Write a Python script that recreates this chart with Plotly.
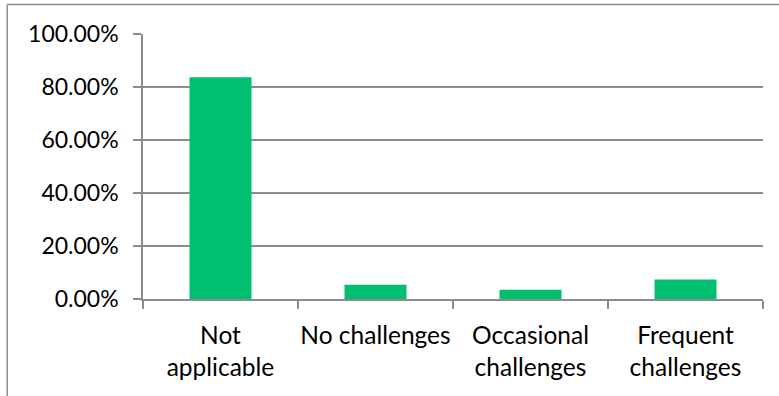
import plotly.graph_objects as go

# Response categories and their shares
categories = ["Not<br>applicable", "No challenges", "Occasional<br>challenges", "Frequent<br>challenges"]
shares = [0.837, 0.054, 0.035, 0.074]

# Value axis ticks
y_ticks = [0, 0.2, 0.4, 0.6, 0.8, 1.0]

GRID = "#8c8c8c"
BAR = "#00BF6F"
FAMILY = "Lato, Carlito, Calibri, sans-serif"
Y_FONT = dict(family=FAMILY, size=23, color="#000000")
X_FONT = dict(family=FAMILY, size=24.5, color="#000000")

fig = go.Figure(
    go.Bar(
        x=categories,
        y=shares,
        marker=dict(color=BAR, line=dict(width=0)),
        width=0.4,
    )
)

fig.update_layout(
    width=779,
    height=396,
    margin=dict(l=143, r=16, t=34, b=97, autoexpand=False),
    paper_bgcolor="white",
    plot_bgcolor="white",
    font=Y_FONT,
    showlegend=False,
    bargap=0.6,
    shapes=[
        # outer chart frame (left and top edges)
        dict(type="line", xref="paper", yref="paper",
             x0=-0.219, x1=-0.219, y0=1.111, y1=-0.5,
             line=dict(color=GRID, width=1.5)),
        dict(type="line", xref="paper", yref="paper",
             x0=-0.219, x1=1.2, y0=1.111, y1=1.111,
             line=dict(color=GRID, width=1.5)),
    ],
)

fig.update_xaxes(
    showline=True,
    linecolor=GRID,
    linewidth=1.5,
    showgrid=False,
    ticks="outside",
    tickson="boundaries",
    ticklen=8,
    tickwidth=1.5,
    tickcolor=GRID,
    tickangle=0,
    automargin=False,
    ticklabelstandoff=14,
    tickfont=X_FONT,
)

fig.update_yaxes(
    range=[0, 1.0],
    tickvals=y_ticks,
    tickformat=".2%",
    showline=True,
    linecolor=GRID,
    linewidth=1.5,
    showgrid=True,
    gridcolor=GRID,
    gridwidth=1.5,
    zeroline=False,
    ticks="outside",
    ticklen=8,
    tickwidth=1.5,
    tickcolor=GRID,
    automargin=False,
    ticklabelstandoff=10,
    tickfont=Y_FONT,
)

fig.write_html("out.html")
